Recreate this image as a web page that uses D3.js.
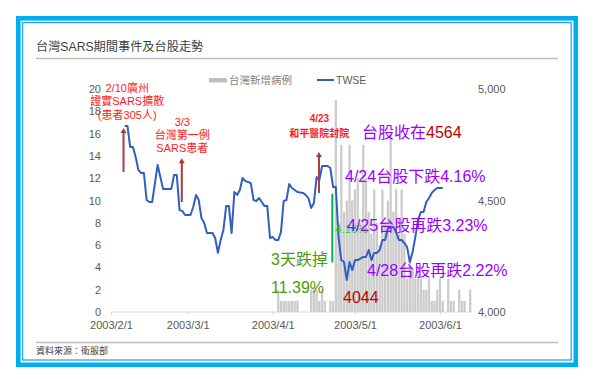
<!DOCTYPE html>
<html><head><meta charset="utf-8">
<script src="https://cdn.jsdelivr.net/npm/d3@7"></script>
<style>
body{margin:0;background:#fff;}
svg{display:block;font-family:"Liberation Sans","Noto Sans CJK TC",sans-serif;}
</style></head>
<body>
<svg id="c" width="600" height="379"></svg>
<script>
// ---- data ----
const title = "台灣SARS期間事件及台股走勢";
const source = "資料來源：衛服部";
const legendCases = "台灣新增病例";
const legendTwse = "TWSE";

const twseDates = ["2003-02-06","2003-02-07","2003-02-08","2003-02-09","2003-02-10","2003-02-11","2003-02-12","2003-02-13","2003-02-14","2003-02-15","2003-02-16","2003-02-18","2003-02-20","2003-02-23","2003-02-24","2003-02-25","2003-02-26","2003-02-27","2003-02-28","2003-03-02","2003-03-03","2003-03-04","2003-03-05","2003-03-06","2003-03-07","2003-03-08","2003-03-10","2003-03-11","2003-03-12","2003-03-13","2003-03-14","2003-03-15","2003-03-16","2003-03-17","2003-03-18","2003-03-19","2003-03-20","2003-03-21","2003-03-22","2003-03-23","2003-03-24","2003-03-25","2003-03-26","2003-03-27","2003-03-29","2003-03-30","2003-03-31","2003-04-01","2003-04-02","2003-04-03","2003-04-04","2003-04-05","2003-04-06","2003-04-07","2003-04-08","2003-04-10","2003-04-12","2003-04-13","2003-04-14","2003-04-15","2003-04-16","2003-04-17","2003-04-18","2003-04-19","2003-04-21","2003-04-22","2003-04-23","2003-04-24","2003-04-25","2003-04-26","2003-04-27","2003-04-28","2003-04-29","2003-04-30","2003-05-01","2003-05-02","2003-05-04","2003-05-05","2003-05-06","2003-05-07","2003-05-08","2003-05-09","2003-05-10","2003-05-11","2003-05-12","2003-05-13","2003-05-15","2003-05-16","2003-05-17","2003-05-18","2003-05-19","2003-05-20","2003-05-21","2003-05-22","2003-05-23","2003-05-24","2003-05-25","2003-05-26","2003-05-27","2003-05-28","2003-05-29","2003-05-30","2003-05-31","2003-06-02"];
const twseValues = [4834,4834,4740,4740,4695,4637,4623,4623,4502,4493,4493,4659,4552,4552,4614,4614,4457,4453,4435,4435,4471,4525,4502,4421,4399,4354,4354,4332,4265,4323,4368,4475,4475,4354,4538,4525,4547,4601,4587,4583,4578,4502,4498,4511,4475,4475,4332,4336,4323,4323,4359,4498,4502,4574,4556,4538,4534,4525,4511,4466,4489,4605,4592,4655,4655,4646,4561,4561,4336,4233,4224,4143,4224,4188,4233,4233,4247,4247,4278,4233,4265,4265,4278,4323,4323,4377,4381,4359,4323,4323,4309,4291,4224,4269,4336,4413,4448,4448,4493,4511,4534,4547,4556,4556];

const caseDates = ["2003-04-03","2003-04-04","2003-04-05","2003-04-06","2003-04-07","2003-04-08","2003-04-09","2003-04-10","2003-04-11","2003-04-12","2003-04-13","2003-04-14","2003-04-15","2003-04-16","2003-04-17","2003-04-18","2003-04-19","2003-04-20","2003-04-21","2003-04-22","2003-04-23","2003-04-24","2003-04-25","2003-04-26","2003-04-27","2003-04-28","2003-04-29","2003-04-30","2003-05-01","2003-05-02","2003-05-03","2003-05-04","2003-05-05","2003-05-06","2003-05-07","2003-05-08","2003-05-09","2003-05-10","2003-05-11","2003-05-12","2003-05-13","2003-05-14","2003-05-15","2003-05-16","2003-05-17","2003-05-18","2003-05-19","2003-05-20","2003-05-21","2003-05-22","2003-05-23","2003-05-24","2003-05-25","2003-05-26","2003-05-27","2003-05-28","2003-05-29","2003-05-30","2003-05-31","2003-06-01","2003-06-02","2003-06-03","2003-06-04","2003-06-05","2003-06-06","2003-06-07","2003-06-08","2003-06-09","2003-06-10","2003-06-11","2003-06-12"];
const caseValues = [2,1,1,1,1,1,1,1,0,0,0,0,2,2,2,1,2,1,0,1,1,19,8,15,9,10,15,10,11,12,8,15,12,9,7,11,8,6,11,8,10,16,9,11,7,11,7,3,5,4,3,4,3,2,2,3,1,1,2,3,1,0,3,1,1,0,2,1,1,0,2];

const leftTicks = [0,2,4,6,8,10,12,14,16,18,20];
const rightTicks = [4000,4500,5000];
const xTicks = ["2003-02-01","2003-03-01","2003-04-01","2003-05-01","2003-06-01"];

// annotations (anchored to dates / TWSE values)
const redNotes = [
  {lines:["2/10廣州","證實SARS擴散","(患者305人)"], date:"2003-02-06", shift:2.5, y0:88, dy:13.5, size:11, bold:false},
  {lines:["3/3","台灣第一例","SARS患者"], date:"2003-02-27", shift:0, y0:122, dy:13, size:11, bold:false},
  {lines:["4/23","和平醫院封院"], date:"2003-04-18", shift:0, y0:118, dy:15, size:10, bold:true}
];
const arrows = [
  {date:"2003-02-06", shift:-1.2, from:4628, to:4825},
  {date:"2003-02-27", shift:-0.5, from:4493, to:4690},
  {date:"2003-04-18", shift:-0.4, from:4534, to:4717}
];

// ---- scales ----
const parse = d3.timeParse("%Y-%m-%d");
const svg = d3.select("#c");
const x = d3.scaleTime().domain([parse("2003-02-01"), parse("2003-06-01")]).range([111, 440]);
const yL = d3.scaleLinear().domain([0, 20]).range([312, 89]);
const yR = d3.scaleLinear().domain([4000, 5000]).range([312, 89]);

// ---- frame ----
svg.append("rect").attr("x",18.3).attr("y",18.3).attr("width",557.5).attr("height",346.5)
  .attr("fill","none").attr("stroke","#00aeef").attr("stroke-width",4.6);
svg.append("rect").attr("x",22.6).attr("y",22.6).attr("width",548.6).attr("height",337.4)
  .attr("fill","none").attr("stroke","#29a8e6").attr("stroke-width",1.3);

svg.append("text").attr("x",36).attr("y",51).attr("font-size",12.2).attr("fill","#404040").text(title);
svg.append("line").attr("x1",36).attr("x2",558).attr("y1",58.5).attr("y2",58.5).attr("stroke","#bdbdbd").attr("stroke-width",1.5);
svg.append("line").attr("x1",36).attr("x2",558).attr("y1",342.5).attr("y2",342.5).attr("stroke","#bdbdbd").attr("stroke-width",1.5);
svg.append("text").attr("x",36).attr("y",354).attr("font-size",9).attr("fill","#404040").text(source);

// ---- legend ----
svg.append("rect").attr("x",209).attr("y",78).attr("width",18).attr("height",4.5).attr("fill","#bfbfbf");
svg.append("text").attr("x",229).attr("y",84).attr("font-size",10.5).attr("fill","#808080").text(legendCases);
svg.append("line").attr("x1",317).attr("x2",334).attr("y1",80).attr("y2",80).attr("stroke","#2f5fbf").attr("stroke-width",2);
svg.append("text").attr("x",336).attr("y",84).attr("font-size",10.5).attr("fill","#595959").text(legendTwse);

// ---- axes ----
const axL = svg.append("g").attr("transform","translate(111,0)")
  .call(d3.axisLeft(yL).tickValues(leftTicks).tickSize(0).tickPadding(10));
const axR = svg.append("g").attr("transform","translate(478,0)")
  .call(d3.axisRight(yR).tickValues(rightTicks).tickSize(0).tickPadding(0).tickFormat(d3.format(",")));
const axB = svg.append("g").attr("transform","translate(0,312)")
  .call(d3.axisBottom(x).tickValues(xTicks.map(parse)).tickSize(3).tickPadding(6).tickFormat(d3.timeFormat("%Y/%-m/%-d")));
[axL, axR].forEach(g => g.select(".domain").remove());
svg.selectAll(".tick text").attr("font-size",11).attr("fill","#595959").attr("font-family","Liberation Sans, sans-serif");
axB.select(".domain").attr("d","M111,0H472").attr("stroke","#d9d9d9");
axB.selectAll(".tick line").attr("stroke","#d9d9d9");

// ---- bars ----
const bw = 2.3;
svg.append("g").selectAll("rect").data(caseDates.map((d,i)=>({d:parse(d), v:caseValues[i]})))
  .join("rect")
  .attr("x", d => x(d.d) - bw/2).attr("width", bw)
  .attr("y", d => yL(d.v)).attr("height", d => yL(0) - yL(d.v))
  .attr("fill","#cccccc");

// ---- line ----
const pts = twseDates.map((d,i)=>[parse(d), twseValues[i]]);
svg.append("path").datum(pts)
  .attr("d", d3.line().x(d=>x(d[0])).y(d=>yR(d[1])))
  .attr("fill","none").attr("stroke","#2f5fbf").attr("stroke-width",2).attr("stroke-linejoin","round");

// ---- arrows ----
arrows.forEach(a => {
  const ax = x(parse(a.date)) + a.shift, y1 = yR(a.from), y2 = yR(a.to);
  svg.append("line").attr("x1",ax).attr("x2",ax).attr("y1",y1).attr("y2",y2+4).attr("stroke","#a93a3a").attr("stroke-width",2);
  svg.append("path").attr("d",`M${ax-3},${y2+5}L${ax},${y2}L${ax+3},${y2+5}Z`).attr("fill","#a93a3a");
});

// ---- red notes ----
redNotes.forEach(n => {
  const cx = x(parse(n.date)) + n.shift;
  n.lines.forEach((t,i) => {
    svg.append("text").attr("x",cx).attr("y",n.y0 + i*n.dy).attr("dy","0.35em")
      .attr("text-anchor","middle").attr("font-size",n.size).attr("font-weight",n.bold?"bold":"normal")
      .attr("fill","#ff1a1a").text(t);
  });
});

// ---- green annotation ----
const gx = x(parse("2003-04-22")) + 2;
svg.append("line").attr("x1",gx).attr("x2",gx).attr("y1",yR(4530)).attr("y2",yR(4222)).attr("stroke","#00b050").attr("stroke-width",2);
svg.append("text").attr("x",335).attr("y",229).attr("dy","0.35em").attr("font-size",11.5).attr("fill","#2ecc40").text("4.16%");
svg.append("text").attr("x",271).attr("y",259).attr("dy","0.35em").attr("font-size",16).attr("fill","#4e9a06").text("3天跌掉");
svg.append("text").attr("x",271).attr("y",287).attr("dy","0.35em").attr("font-size",16).attr("fill","#4e9a06").text("11.39%");

// ---- purple annotations ----
const purple = "#9b00ff", dark = "#c00000";
const t1 = svg.append("text").attr("x",362).attr("y",132).attr("dy","0.35em").attr("font-size",16);
t1.append("tspan").attr("fill",purple).text("台股收在");
t1.append("tspan").attr("fill",dark).text("4564");
svg.append("text").attr("x",345).attr("y",176).attr("dy","0.35em").attr("font-size",16).attr("fill",purple).text("4/24台股下跌4.16%");
svg.append("text").attr("x",347).attr("y",225).attr("dy","0.35em").attr("font-size",16).attr("fill",purple).text("4/25台股再跌3.23%");
svg.append("text").attr("x",367).attr("y",270).attr("dy","0.35em").attr("font-size",16).attr("fill",purple).text("4/28台股再跌2.22%");
svg.append("text").attr("x",343).attr("y",297).attr("dy","0.35em").attr("font-size",16).attr("fill",dark).text("4044");
</script>
</body></html>
